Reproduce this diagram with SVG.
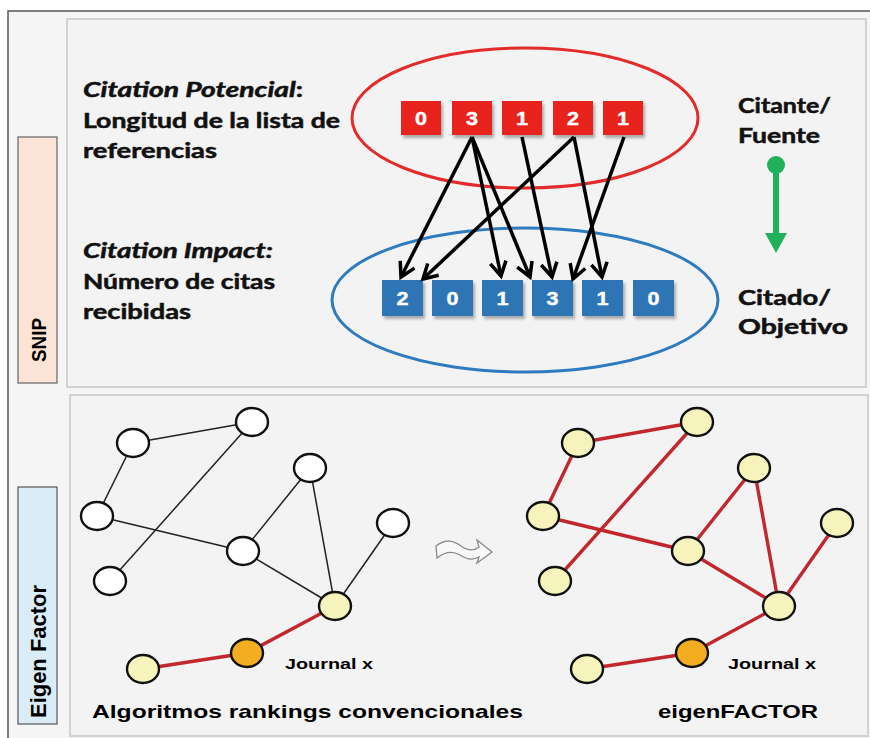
<svg xmlns="http://www.w3.org/2000/svg" width="870" height="738" viewBox="0 0 870 738">
<defs>
<style>
.lbl{font-family:Lato,"Open Sans","Liberation Sans",sans-serif;font-weight:bold;font-size:20px;fill:#111;stroke:#111;stroke-width:0.5}
.num{font-family:"Liberation Sans",Arial,sans-serif;font-weight:bold;font-size:18px;fill:#fff;text-anchor:middle;stroke:#fff;stroke-width:0.4}
.ar{font-family:"Liberation Sans",Arial,sans-serif;font-weight:bold;fill:#000}
.rbox{fill:#e8231f}
.bbox{fill:#2e74b5}
.cite{stroke:#000;stroke-width:3.5;fill:none;marker-end:url(#chev)}
.eb{stroke:#222;stroke-width:1.5}
.er{stroke:#c1272d;stroke-width:3.4}
.nw{fill:#fff;stroke:#111;stroke-width:2.4}
.ny{fill:#f6f4bc;stroke:#111;stroke-width:2.4}
.no{fill:#f3ad1f;stroke:#111;stroke-width:2.4}
.panel{fill:#f3f3f3;stroke:#d2d2d2;stroke-width:2}
</style>
<marker id="chev" markerUnits="userSpaceOnUse" markerWidth="24" markerHeight="24" viewBox="0 0 24 24" refX="19" refY="12" orient="auto">
<path d="M5,4 L19,12 L5,20" fill="none" stroke="#000" stroke-width="3.5" stroke-linejoin="miter"/>
</marker>
<filter id="sh" x="-20%" y="-20%" width="150%" height="150%">
<feDropShadow dx="2" dy="3" stdDeviation="1.5" flood-color="#000" flood-opacity="0.3"/>
</filter>
</defs>
<rect x="0" y="0" width="870" height="738" fill="#ffffff"/>
<rect x="8" y="11" width="870" height="740" fill="#f5f5f5" stroke="#555" stroke-width="1.5"/>

<g id="snip-panel">
<rect class="panel" x="67" y="19" width="799" height="368"/>
</g>
<g id="eigen-panel">
<rect class="panel" x="70" y="395" width="798" height="341"/>
</g>

<g id="snip-label">
<rect x="18" y="137" width="39" height="246" fill="#fbe4d5" stroke="#666" stroke-width="1.2"/>
<text class="ar" font-size="20" transform="translate(46,362) rotate(-90)" textLength="44" lengthAdjust="spacingAndGlyphs">SNIP</text>
</g>
<g id="eigen-label">
<rect x="18" y="487" width="39" height="237" fill="#d9ecf7" stroke="#555" stroke-width="1.2"/>
<text class="ar" font-size="22" transform="translate(46,718) rotate(-90)" textLength="133" lengthAdjust="spacingAndGlyphs">Eigen Factor</text>
</g>

<g id="citation-potencial-text">
<text class="lbl" x="83" y="97" textLength="220" lengthAdjust="spacingAndGlyphs"><tspan font-style="italic">Citation Potencial</tspan>:</text>
<text class="lbl" x="83" y="128" textLength="257" lengthAdjust="spacingAndGlyphs">Longitud de la lista de</text>
<text class="lbl" x="83" y="158" textLength="134" lengthAdjust="spacingAndGlyphs">referencias</text>
</g>
<g id="citation-impact-text">
<text class="lbl" x="83" y="258" textLength="190" lengthAdjust="spacingAndGlyphs" font-style="italic">Citation Impact:</text>
<text class="lbl" x="83" y="289" textLength="192" lengthAdjust="spacingAndGlyphs">Número de citas</text>
<text class="lbl" x="83" y="319" textLength="108" lengthAdjust="spacingAndGlyphs">recibidas</text>
</g>

<g id="source-ellipse">
<ellipse cx="525" cy="118" rx="173" ry="70" fill="none" stroke="#e32b2b" stroke-width="3"/>
</g>
<g id="target-ellipse">
<ellipse cx="525" cy="300" rx="193" ry="72" fill="none" stroke="#2e7bc0" stroke-width="3"/>
</g>

<g id="source-boxes">
<g filter="url(#sh)">
<rect class="rbox" x="401" y="101" width="40" height="34"/>
<rect class="rbox" x="452" y="101" width="40" height="34"/>
<rect class="rbox" x="502" y="101" width="40" height="34"/>
<rect class="rbox" x="553" y="101" width="40" height="34"/>
<rect class="rbox" x="603" y="101" width="40" height="34"/>
</g>
<text class="num" x="421" y="125" textLength="12" lengthAdjust="spacingAndGlyphs">0</text>
<text class="num" x="472" y="125" textLength="12" lengthAdjust="spacingAndGlyphs">3</text>
<text class="num" x="522" y="125" textLength="12" lengthAdjust="spacingAndGlyphs">1</text>
<text class="num" x="573" y="125" textLength="12" lengthAdjust="spacingAndGlyphs">2</text>
<text class="num" x="623" y="125" textLength="12" lengthAdjust="spacingAndGlyphs">1</text>
</g>

<g id="target-boxes">
<g filter="url(#sh)">
<rect class="bbox" x="382" y="280" width="41" height="36"/>
<rect class="bbox" x="432" y="280" width="41" height="36"/>
<rect class="bbox" x="482" y="280" width="41" height="36"/>
<rect class="bbox" x="532" y="280" width="41" height="36"/>
<rect class="bbox" x="582" y="280" width="41" height="36"/>
<rect class="bbox" x="633" y="280" width="41" height="36"/>
</g>
<text class="num" x="402.5" y="305" textLength="12" lengthAdjust="spacingAndGlyphs">2</text>
<text class="num" x="452.5" y="305" textLength="12" lengthAdjust="spacingAndGlyphs">0</text>
<text class="num" x="502.5" y="305" textLength="12" lengthAdjust="spacingAndGlyphs">1</text>
<text class="num" x="552.5" y="305" textLength="12" lengthAdjust="spacingAndGlyphs">3</text>
<text class="num" x="602.5" y="305" textLength="12" lengthAdjust="spacingAndGlyphs">1</text>
<text class="num" x="653.5" y="305" textLength="12" lengthAdjust="spacingAndGlyphs">0</text>
</g>

<g id="citation-arrows">
<line class="cite" x1="472" y1="137" x2="401" y2="277"/>
<line class="cite" x1="472" y1="137" x2="501" y2="276"/>
<line class="cite" x1="472" y1="137" x2="530" y2="277"/>
<line class="cite" x1="522" y1="137" x2="552" y2="277"/>
<line class="cite" x1="574" y1="137" x2="423" y2="279"/>
<line class="cite" x1="574" y1="137" x2="602" y2="277"/>
<line class="cite" x1="624" y1="137" x2="573" y2="279"/>
</g>

<g id="direction-arrow">
<circle cx="776" cy="165" r="9" fill="#22b15b"/>
<line x1="776" y1="165" x2="776" y2="236" stroke="#22b15b" stroke-width="6"/>
<polygon points="765,233 787,233 776,253" fill="#22b15b"/>
</g>
<g id="role-labels">
<text class="lbl" x="738" y="113" font-size="22" textLength="93" lengthAdjust="spacingAndGlyphs">Citante/</text>
<text class="lbl" x="738" y="143" font-size="22" textLength="82" lengthAdjust="spacingAndGlyphs">Fuente</text>
<text class="lbl" x="738" y="305" font-size="22" textLength="93" lengthAdjust="spacingAndGlyphs">Citado/</text>
<text class="lbl" x="738" y="334" font-size="22" textLength="110" lengthAdjust="spacingAndGlyphs">Objetivo</text>
</g>

<g id="conventional-edges">
<line class="eb" x1="133" y1="443" x2="252" y2="422"/>
<line class="eb" x1="133" y1="443" x2="97" y2="516"/>
<line class="eb" x1="252" y1="422" x2="110" y2="581"/>
<line class="eb" x1="97" y1="516" x2="243" y2="551"/>
<line class="eb" x1="243" y1="551" x2="310" y2="468"/>
<line class="eb" x1="310" y1="468" x2="335" y2="606"/>
<line class="eb" x1="243" y1="551" x2="335" y2="606"/>
<line class="eb" x1="393" y1="523" x2="335" y2="606"/>
<line class="er" x1="335" y1="606" x2="247" y2="653"/>
<line class="er" x1="247" y1="653" x2="143" y2="669"/>
</g>
<g id="conventional-nodes">
<ellipse class="nw" cx="133" cy="443" rx="16" ry="14"/>
<ellipse class="nw" cx="252" cy="422" rx="16" ry="14"/>
<ellipse class="nw" cx="97" cy="516" rx="16" ry="14"/>
<ellipse class="nw" cx="110" cy="581" rx="16" ry="14"/>
<ellipse class="nw" cx="243" cy="551" rx="16" ry="14"/>
<ellipse class="nw" cx="310" cy="468" rx="16" ry="14"/>
<ellipse class="nw" cx="393" cy="523" rx="16" ry="14"/>
<ellipse class="ny" cx="335" cy="606" rx="16" ry="14"/>
<ellipse class="no" cx="247" cy="653" rx="16" ry="14"/>
<ellipse class="ny" cx="143" cy="669" rx="16" ry="14"/>
<text class="ar" x="285" y="669" font-size="15" textLength="88" lengthAdjust="spacingAndGlyphs">Journal x</text>
<text class="ar" x="92" y="718" font-size="19" textLength="431" lengthAdjust="spacingAndGlyphs">Algoritmos rankings convencionales</text>
</g>

<g id="transition-arrow">
<path d="M436,546 C446,538 454,541 461,546 C468,551 474,551 479,547 L477,540 L492,552 L477,563 L479,557 C472,561 466,559 460,555 C453,551 446,551 437,558 Z" fill="#f8f8f8" stroke="#888" stroke-width="1.3"/>
</g>

<g id="eigenfactor-edges">
<line class="er" x1="578" y1="443" x2="697" y2="422"/>
<line class="er" x1="578" y1="443" x2="543" y2="516"/>
<line class="er" x1="697" y1="422" x2="555" y2="581"/>
<line class="er" x1="543" y1="516" x2="688" y2="551"/>
<line class="er" x1="688" y1="551" x2="754" y2="468"/>
<line class="er" x1="754" y1="468" x2="779" y2="606"/>
<line class="er" x1="688" y1="551" x2="779" y2="606"/>
<line class="er" x1="837" y1="523" x2="779" y2="606"/>
<line class="er" x1="779" y1="606" x2="692" y2="653"/>
<line class="er" x1="692" y1="653" x2="587" y2="669"/>
</g>
<g id="eigenfactor-nodes">
<ellipse class="ny" cx="578" cy="443" rx="16" ry="14"/>
<ellipse class="ny" cx="697" cy="422" rx="16" ry="14"/>
<ellipse class="ny" cx="543" cy="516" rx="16" ry="14"/>
<ellipse class="ny" cx="555" cy="581" rx="16" ry="14"/>
<ellipse class="ny" cx="688" cy="551" rx="16" ry="14"/>
<ellipse class="ny" cx="754" cy="468" rx="16" ry="14"/>
<ellipse class="ny" cx="837" cy="523" rx="16" ry="14"/>
<ellipse class="ny" cx="779" cy="606" rx="16" ry="14"/>
<ellipse class="no" cx="692" cy="653" rx="16" ry="14"/>
<ellipse class="ny" cx="587" cy="669" rx="16" ry="14"/>
<text class="ar" x="728" y="669" font-size="15" textLength="88" lengthAdjust="spacingAndGlyphs">Journal x</text>
<text class="ar" x="658" y="718" font-size="19" textLength="160" lengthAdjust="spacingAndGlyphs">eigenFACTOR</text>
</g>
</svg>
